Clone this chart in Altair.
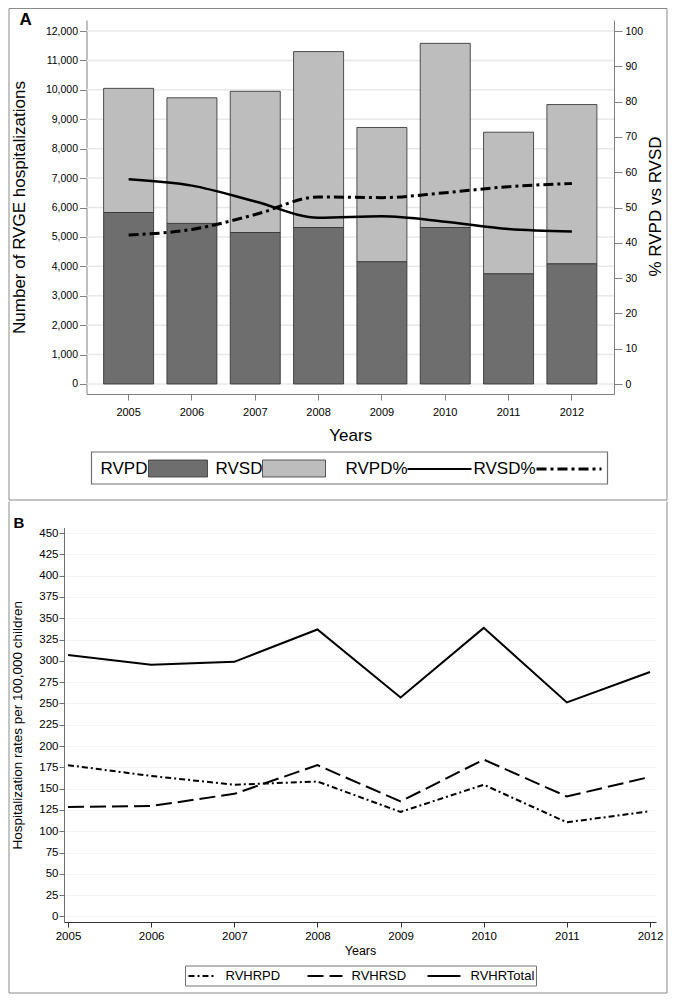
import altair as alt
import pandas as pd

FONT = "Liberation Sans"

# ---------------- data ----------------
years = [2005, 2006, 2007, 2008, 2009, 2010, 2011, 2012]
rvpd = [5830, 5460, 5150, 5320, 4160, 5320, 3750, 4090]
rvsd = [4220, 4270, 4800, 5980, 4560, 6260, 4810, 5410]
rvpd_pct = [58.0, 56.2, 51.7, 47.1, 47.5, 46.0, 43.9, 43.2]
rvsd_pct = [42.2, 43.8, 48.0, 53.0, 52.8, 54.2, 55.9, 56.8]

rvhr_pd = [177.6, 164.9, 154.6, 158.4, 122.7, 154.6, 110.5, 123.5]
rvhr_sd = [128.4, 129.6, 143.9, 177.6, 135.0, 184.1, 140.8, 163.8]
rvhr_total = [306.8, 295.3, 298.8, 336.8, 257.0, 338.7, 251.2, 286.9]

left_ticks = list(range(0, 12001, 1000))
right_ticks = list(range(0, 101, 10))
rate_ticks = list(range(0, 451, 25))

bar_series = ["RVPD", "RVSD"]
pct_series = ["RVPD%", "RVSD%"]
rate_series = ["RVHRPD", "RVHRSD", "RVHRTotal"]

ylab = [str(y) for y in years]
bars_df = pd.DataFrame({
    "Year": ylab * 2,
    "Series": [bar_series[0]] * 8 + [bar_series[1]] * 8,
    "Count": rvpd + rvsd,
    "ord": [0] * 8 + [1] * 8,
})
grid_df = pd.DataFrame({"v": left_ticks})
pd_pct_df = pd.DataFrame({"Year": ylab, "Pct": rvpd_pct})
sd_pct_df = pd.DataFrame({"Year": ylab, "Pct": rvsd_pct})
rate_pd_df = pd.DataFrame({"Year": years, "Rate": rvhr_pd})
rate_sd_df = pd.DataFrame({"Year": years, "Rate": rvhr_sd})
rate_tot_df = pd.DataFrame({"Year": years, "Rate": rvhr_total})
one = pd.DataFrame({"k": [0]})

DARK = "#6e6e6e"
LIGHT = "#bdbdbd"
FRAME = "#8a8a8a"


def txt(s, x, y, size, weight="normal", align="left", baseline="middle"):
    return alt.Chart(one).mark_text(
        text=s, fontSize=size, fontWeight=weight, align=align,
        baseline=baseline, font=FONT, color="black"
    ).encode(x=alt.value(x), y=alt.value(y))


def box(x, x2, y, y2, fill, stroke, sw, fo=1.0):
    return alt.Chart(one).mark_rect(
        fill=fill, fillOpacity=fo, stroke=stroke, strokeWidth=sw
    ).encode(x=alt.value(x), x2=alt.value(x2), y=alt.value(y), y2=alt.value(y2))


def hline(x, x2, y, sw, color="black", dash=None):
    kw = dict(color=color, strokeWidth=sw)
    if dash is not None:
        kw["strokeDash"] = dash
    return alt.Chart(one).mark_rule(**kw).encode(
        x=alt.value(x), x2=alt.value(x2), y=alt.value(y))


def vline(x, y, y2, sw, color):
    return alt.Chart(one).mark_rule(color=color, strokeWidth=sw).encode(
        x=alt.value(x), y=alt.value(y), y2=alt.value(y2))


# Both panels share the same origin x (page 63.5) and the same extents
# above/below/left/right of it, so the concat layout is deterministic.
FL, FR = -55, 603          # frame left/right, relative to plot origin
FT, FB = -11.5, 480        # frame top/bottom, relative to plot origin

# ---------------- panel A ----------------
WA, HA = 550, 374
AX0 = 22.5                 # left edge of the bar area inside panel A
DASH_A = [10, 4, 3, 4]
yA_scale = alt.Scale(domain=[-340, 12374], nice=False, zero=False)
yA_pct_scale = alt.Scale(domain=[-2.83, 103.12], nice=False, zero=False)

xA = alt.X(
    "Year:N",
    scale=alt.Scale(range=[AX0, WA], paddingInner=0.21, paddingOuter=0.27),
    axis=alt.Axis(
        labelAngle=0, tickSize=6, labelPadding=6, labelFontSize=11,
        domainColor="#808080", tickColor="#808080",
        title="Years", titleFontSize=17, titleFontWeight="normal",
        titleX=(AX0 + WA) / 2, titleY=41, titleAlign="center", titleBaseline="middle",
    ),
)

gridA = alt.Chart(grid_df).mark_rule(color="#e8e8e8", strokeWidth=1.5).encode(
    y=alt.Y("v:Q", scale=yA_scale, axis=None),
    x=alt.value(AX0), x2=alt.value(WA),
)

bars = alt.Chart(bars_df).mark_bar(stroke="#2a2a2a", strokeWidth=0.8).encode(
    x=xA,
    y=alt.Y(
        "Count:Q", stack="zero", scale=yA_scale,
        axis=alt.Axis(
            values=left_ticks, format=",.0f", tickSize=7, labelPadding=2,
            labelFontSize=10.5, grid=False, offset=-AX0,
            domainColor="#808080", tickColor="#808080",
            title="Number of RVGE hospitalizations", titleFontSize=17,
            titleFontWeight="normal", titleAngle=270, titleX=-67, titleY=HA / 2,
            titleAlign="center", titleBaseline="middle",
        ),
    ),
    color=alt.Color("Series:N", scale=alt.Scale(domain=bar_series, range=[DARK, LIGHT]), legend=None),
    order=alt.Order("ord:Q", sort="ascending"),
)

pct_axis = alt.Axis(
    orient="right", values=right_ticks, tickSize=8, labelPadding=3,
    labelFontSize=10.5, grid=False,
    domainColor="#808080", tickColor="#808080",
    title="% RVPD vs RVSD", titleFontSize=17, titleFontWeight="normal",
    titleAngle=270, titleX=41.5, titleY=HA / 2 - 1,
    titleAlign="center", titleBaseline="middle",
)

line_pd = alt.Chart(pd_pct_df).mark_line(
    interpolate="monotone", color="black", strokeWidth=2.5
).encode(x=xA, y=alt.Y("Pct:Q", scale=yA_pct_scale, axis=pct_axis))

line_sd = alt.Chart(sd_pct_df).mark_line(
    interpolate="monotone", color="black", strokeWidth=3, strokeDash=DASH_A
).encode(x=xA, y=alt.Y("Pct:Q", scale=yA_pct_scale, axis=pct_axis))

lines = alt.layer(line_pd, line_sd)

frameA = box(FL, FR, FT, FB, "white", FRAME, 1, fo=0)

legA = [
    box(27.5, 543.5, 432, 464, "white", "#707070", 1.2, fo=0),
    txt("RVPD", 36.5, 449, 17),
    box(84.5, 143.5, 440, 457, DARK, "#333333", 0.8),
    txt("RVSD", 151.5, 449, 17),
    box(198.5, 261.5, 440, 457, LIGHT, "#333333", 0.8),
    txt("RVPD%", 281.5, 449, 17),
    hline(343.5, 407.5, 449, 2.2),
    txt("RVSD%", 409.5, 449, 17),
    hline(472.5, 537.5, 449, 3, dash=DASH_A),
]

panelA = alt.layer(
    gridA, bars, lines, frameA,
    txt("A", -44.5, 5, 17, weight="bold", baseline="alphabetic"), *legA
).resolve_scale(y="independent").properties(width=WA, height=HA)

# ---------------- panel B ----------------
WB, HB = 592, 409
BY0 = 14.5                 # top of the y axis inside panel B
DASH_PD = [6, 3, 2, 3]
DASH_SD = [16, 6]

xB = alt.X(
    "Year:Q",
    scale=alt.Scale(domain=[2004.952, 2012.072], nice=False, zero=False),
    axis=alt.Axis(
        values=years, format="d", tickSize=5, labelPadding=3, labelFontSize=11.5,
        grid=False, domainColor="#333333", tickColor="#333333",
        title="Years", titleFontSize=12.5, titleFontWeight="normal",
        titleX=WB / 2, titleY=28, titleAlign="center", titleBaseline="middle",
    ),
)
yB = alt.Y(
    "Rate:Q",
    scale=alt.Scale(domain=[-6.5, 456.5], range=[HB, BY0], nice=False, zero=False),
    axis=alt.Axis(
        values=rate_ticks, tickSize=5, labelPadding=1, labelFontSize=11.5,
        grid=True, gridColor="#f3f3f3", gridWidth=1,
        domainColor="#707070", tickColor="#707070",
        title="Hospitalization rates per 100,000 children", titleFontSize=13.5,
        titleFontWeight="normal", titleAngle=270, titleX=-46.5, titleY=(BY0 + HB) / 2,
        titleAlign="center", titleBaseline="middle",
    ),
)

lb_pd = alt.Chart(rate_pd_df).mark_line(color="black", strokeWidth=2, strokeDash=DASH_PD).encode(x=xB, y=yB)
lb_sd = alt.Chart(rate_sd_df).mark_line(color="black", strokeWidth=2, strokeDash=DASH_SD).encode(x=xB, y=yB)
lb_tot = alt.Chart(rate_tot_df).mark_line(color="black", strokeWidth=2).encode(x=xB, y=yB)

frameB = [
    vline(FL, FT, FB, 1, FRAME),
    vline(FR, FT, FB, 1, FRAME),
    hline(FL, FR, FB, 1, color=FRAME),
]

LBY = HB + 54
legB = [
    box(121.5, 472.5, LBY - 10, LBY + 10, "white", "#707070", 1, fo=0),
    hline(124.5, 152.5, LBY, 2, dash=DASH_PD),
    txt("RVHRPD", 161.5, LBY, 13),
    hline(243.5, 278.5, LBY, 2, dash=DASH_SD),
    txt("RVHRSD", 287.5, LBY, 13),
    hline(363.5, 396.5, LBY, 2.2),
    txt("RVHRTotal", 406.5, LBY, 13),
]

panelB = alt.layer(
    lb_pd, lb_sd, lb_tot, *frameB,
    txt("B", -50.5, BY0, 15, weight="bold", baseline="alphabetic"), *legB
).properties(width=WB, height=HB)

chart = (
    alt.concat(panelA, panelB, columns=1, spacing=0, align="none")
    .properties(padding=0, background="white")
    .configure_view(strokeWidth=0)
    .configure_axis(labelFont=FONT, titleFont=FONT, labelColor="black", titleColor="black")
)

chart.save("out.html", embed_options={"renderer": "svg", "actions": False})
